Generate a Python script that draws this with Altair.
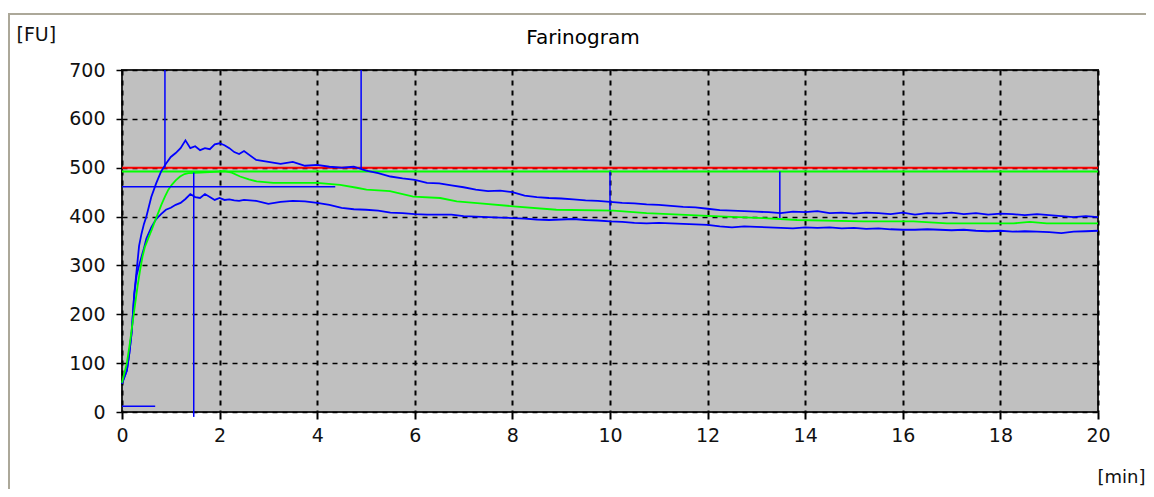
import altair as alt
import pandas as pd

# ---- data ----
T_BLUE = [0, 0.05, 0.1, 0.15, 0.2, 0.25, 0.3, 0.35, 0.4, 0.45, 0.5, 0.6, 0.7, 0.8, 0.9,
          1.0, 1.1, 1.2, 1.3, 1.4, 1.5, 1.6, 1.7, 1.8, 1.9, 2.0, 2.1, 2.2, 2.3, 2.4, 2.5,
          2.75, 3.0, 3.25, 3.5, 3.75, 4.0, 4.25, 4.5, 4.75, 5.0, 5.25, 5.5, 5.75, 6.0,
          6.25, 6.5, 6.75, 7.0, 7.25, 7.5, 7.75, 8.0, 8.25, 8.5, 8.75, 9.0, 9.25, 9.5,
          9.75, 10.0, 10.25, 10.5, 10.75, 11.0, 11.25, 11.5, 11.75, 12.0, 12.25, 12.5,
          12.75, 13.0, 13.25, 13.5, 13.75, 14.0, 14.25, 14.5, 14.75, 15.0, 15.25, 15.5,
          15.75, 16.0, 16.25, 16.5, 16.75, 17.0, 17.25, 17.5, 17.75, 18.0, 18.25, 18.5,
          18.75, 19.0, 19.25, 19.5, 19.75, 20.0]

UPPER = [58, 72, 85, 120, 165, 240, 290, 340, 365, 385, 400, 440, 468, 492, 508,
         522, 530, 540, 556, 540, 544, 536, 540, 538, 548, 550, 546, 540, 532, 528, 534,
         516, 512, 508, 512, 504, 506, 502, 500, 502, 494, 489, 482, 478, 475,
         469, 468, 464, 460, 455, 452, 453, 450, 443, 440, 438, 437, 435, 433,
         432, 430, 428, 427, 425, 424, 422, 420, 419, 416, 413, 412,
         411, 410, 409, 407, 410, 409, 411, 407, 408, 406, 408, 407,
         405, 408, 404, 407, 406, 408, 405, 407, 404, 406, 405, 403,
         405, 403, 401, 399, 401, 399]

LOWER = [58, 72, 85, 120, 165, 240, 280, 300, 318, 335, 355, 378, 395, 405, 414,
         418, 424, 428, 436, 446, 440, 438, 446, 440, 434, 438, 434, 435, 433, 432, 434,
         432, 426, 430, 432, 431, 428, 424, 418, 415, 414, 412, 408, 407, 405,
         404, 404, 404, 401, 400, 399, 398, 397, 396, 394, 393, 394, 395, 393,
         392, 390, 389, 387, 386, 387, 386, 385, 384, 383, 380, 378,
         380, 379, 378, 377, 376, 378, 377, 378, 376, 377, 375, 376,
         374, 373, 373, 374, 373, 372, 373, 371, 370, 371, 369, 370,
         369, 368, 366, 369, 370, 371]

T_GREEN = [0, 0.1, 0.16, 0.22, 0.27, 0.32, 0.37, 0.42, 0.47, 0.54, 0.61, 0.68, 0.74,
           0.81, 0.88, 0.95, 1.02, 1.1, 1.19, 1.28, 1.36, 1.6, 1.8, 2.1, 2.25, 2.42,
           2.6, 2.76, 3.1, 4.0, 4.47, 4.81, 5.01, 5.49, 5.97, 6.52, 6.86, 7.34, 8.02,
           8.9, 10.07, 10.75, 12.12, 13.14, 13.83, 15.19, 16.22, 16.9, 18.27, 18.6,
           18.95, 20.0]
GREEN = [60, 100, 140, 185, 222, 258, 290, 318, 338, 356, 373, 392, 407,
         425, 441, 455, 465, 474, 482, 487, 489, 490, 491, 493, 490, 482,
         476, 472, 469, 469, 465, 459, 455, 452, 441, 438, 431, 427, 421,
         414, 412, 407, 401, 397, 393, 390, 390, 386, 386, 389,
         386, 386]

REF_RED = 500
REF_GREEN = 492

# vertical blue markers (time, from, to)
VM_T = [0.88, 4.9, 1.47, 10.0, 13.48]
VM_Y1 = [700, 700, 490, 492, 492]
VM_Y2 = [500, 497, -10, 413, 397]

# horizontal blue markers (from time, to time, level)
HM_T1 = [0.0, 0.0]
HM_T2 = [4.37, 0.68]
HM_Y = [461, 12]

X_TICKS = [0, 2, 4, 6, 8, 10, 12, 14, 16, 18, 20]
Y_TICKS = [0, 100, 200, 300, 400, 500, 600, 700]

FONT = "DejaVu Sans"

# ---- tables ----
curves = pd.concat([
    pd.DataFrame({"t": T_BLUE, "fu": UPPER, "s": "upper"}),
    pd.DataFrame({"t": T_BLUE, "fu": LOWER, "s": "lower"}),
])
green = pd.DataFrame({"t": T_GREEN, "fu": GREEN})
vm = pd.DataFrame({"t": VM_T, "y1": VM_Y1, "y2": VM_Y2})
hm = pd.DataFrame({"t1": HM_T1, "t2": HM_T2, "y": HM_Y})
refs = pd.DataFrame({"y": [REF_RED, REF_GREEN], "c": ["#ff0000", "#00ff00"]})

xscale = alt.Scale(domain=[0, 20], nice=False)
yscale = alt.Scale(domain=[0, 700], nice=False)

xaxis = alt.Axis(values=X_TICKS, title="[min]", titleX=975, titleY=65,
                 titleAlign="left", titleBaseline="middle", titleAngle=0,
                 titleFontSize=18,
                 gridDash=[5, 5], gridWidth=2, tickSize=7, tickWidth=2,
                 labelPadding=7, labelFlush=False, domain=False)
yaxis = alt.Axis(values=Y_TICKS, title="[FU]", titleX=-106, titleY=-36,
                 titleAlign="left", titleBaseline="middle", titleAngle=0,
                 gridDash=[5, 5], gridWidth=1.5, tickSize=6, tickWidth=1.5,
                 labelPadding=11, labelFlush=False, domain=False)

X = lambda f: alt.X(f, type="quantitative", scale=xscale, axis=xaxis)
Y = lambda f: alt.Y(f, type="quantitative", scale=yscale, axis=yaxis)

frame = alt.Chart(pd.DataFrame({"a": [1]})).mark_rect(
    fill="white", fillOpacity=0, stroke="#aca899", strokeWidth=2, clip=False
).encode(x=alt.value(-113), x2=alt.value(1080), y=alt.value(-56), y2=alt.value(470))

ref_lines = alt.Chart(refs).mark_rule(strokeWidth=2).encode(
    y=Y("y"), color=alt.Color("c:N", scale=None)
)

blue = alt.Chart(curves).mark_line(color="#0000ff", strokeWidth=1.8).encode(
    x=X("t"), y=Y("fu"), detail="s:N"
)
green_line = alt.Chart(green).mark_line(color="#00ff00", strokeWidth=1.8).encode(
    x=X("t"), y=Y("fu")
)
vmarks = alt.Chart(vm).mark_rule(color="#0000ff", strokeWidth=1.5, clip=False).encode(
    x=X("t"), y=Y("y1"), y2="y2"
)
hmarks = alt.Chart(hm).mark_rule(color="#0000ff", strokeWidth=1.5).encode(
    x=X("t1"), x2="t2", y=Y("y")
)

chart = alt.layer(frame, ref_lines, blue, green_line, vmarks, hmarks).properties(
    width=976, height=342,
    title=alt.TitleParams("Farinogram", frame="group", anchor="middle", dx=-27,
                          offset=0, dy=51, baseline="alphabetic", font=FONT,
                          fontSize=20, fontWeight="normal", color="#000"),
    autosize=alt.AutoSizeParams(type="none"),
    padding={"left": 114, "top": 62, "right": 48, "bottom": 77},
    background="white",
).configure_view(
    fill="#c0c0c0", stroke="#222222", strokeWidth=2
).configure_axis(
    labelFont=FONT, labelFontSize=19, labelColor="#111",
    titleFont=FONT, titleFontSize=19, titleFontWeight="normal", titleColor="#111",
    gridColor="#000000", gridOpacity=1, tickColor="#000000"
)

chart.save("out.html", embed_options={"renderer": "svg", "actions": False})
